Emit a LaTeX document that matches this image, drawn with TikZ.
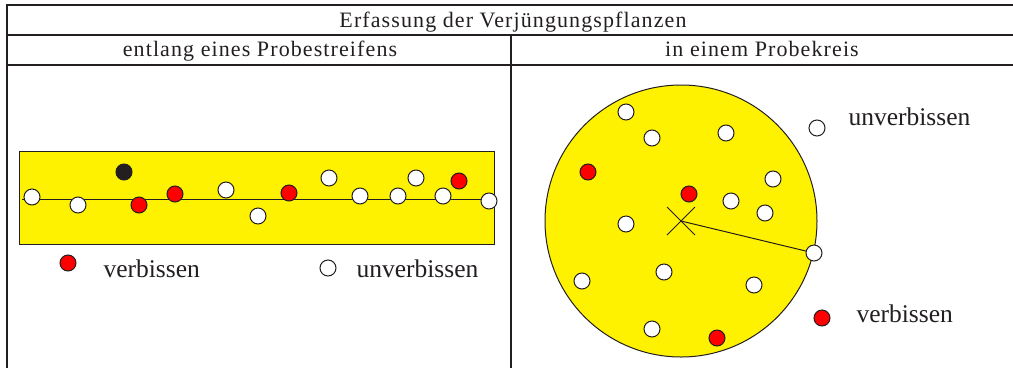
\documentclass[tikz,border=0pt]{standalone}
\usepackage{fontspec}
\setmainfont{Liberation Serif}
\newfontfamily\headfont[LetterSpace=5]{Liberation Serif}
\usetikzlibrary{positioning}
\definecolor{ink}{HTML}{231F20}

\begin{document}
\begin{tikzpicture}[x=1pt,y=-1pt,
    dot/.style={circle,draw=ink,line width=1pt,minimum size=16pt,inner sep=0pt},
    unv/.style={dot,fill=white},
    verb/.style={dot,fill=red},
    head/.style={anchor=base,text=ink,font=\headfont\fontsize{22}{24}\selectfont},
    leg/.style={anchor=base west,text=ink,font=\fontsize{25.5}{28}\selectfont}]
    \useasboundingbox (0,0) rectangle (1013,368);
    % Table
    \draw[line width=2pt, ink] (1013,5) -- (7,5) -- (7,368);
    \draw[line width=2pt, ink] (7,35) -- (1013,35);
    \draw[line width=2pt, ink] (7,65) -- (1013,65);
    \draw[line width=2pt, ink] (511,35) -- (511,368);
    \node[head] (titel) at (513,27) {Erfassung der Verjüngungspflanzen};
    \node[head] (streifen) at (260,56) {entlang eines Probestreifens};
    \node[head] (probekreis) at (762,56) {in einem Probekreis};
    % Strip
    \node[draw=ink, line width=1pt, fill=yellow, minimum width=475pt, minimum height=93pt,
      inner sep=0pt] (strip) at (256.5,197.5) {};
    \coordinate (sa) at (22,199);
    \coordinate (sb) at (489,199);
    \draw[ink, line width=1pt] (sa) -- (sb);
    \node[unv] (s1) at (32,197) {};
    \node[unv] (s2) at (78,205) {};
    \node[dot, fill=ink] (s3) at (124,172) {};
    \node[verb] (s4) at (139,205) {};
    \node[verb] (s5) at (175,194) {};
    \node[unv] (s6) at (226,190) {};
    \node[unv] (s7) at (258,216) {};
    \node[verb] (s8) at (289,193) {};
    \node[unv] (s9) at (329,178) {};
    \node[unv] (s10) at (360,196) {};
    \node[unv] (s11) at (398,196) {};
    \node[unv] (s12) at (416,178) {};
    \node[unv] (s13) at (443,196) {};
    \node[verb] (s14) at (459,181) {};
    \node[unv] (s15) at (489,201) {};
    % Legend strip
    \node[verb] (lv) at (68,263) {};
    \node[leg] (lvt) at (100,277) {verbissen};
    \node[unv] (lu) at (328,268) {};
    \node[leg] (lut) at (353,277) {unverbissen};
    % Circle
    \coordinate (kc) at (681,221);
    \coordinate (re) at (814,253);
    \node[circle, draw=ink, line width=1pt, fill=yellow, minimum size=272pt, inner sep=0pt] (kreis) at (kc) {};
    \draw[ink, line width=1pt] (kc) ++(-14,-14) -- ++(28,28);
    \draw[ink, line width=1pt] (kc) ++(14,-14) -- ++(-28,28);
    \draw[ink, line width=1pt] (kc) -- (re);
    \node[unv] (k1) at (626,112) {};
    \node[unv] (k2) at (652,138) {};
    \node[unv] (k3) at (726,133) {};
    \node[verb] (k4) at (588,172) {};
    \node[verb] (k5) at (689,194) {};
    \node[unv] (k6) at (731,201) {};
    \node[unv] (k7) at (773,179) {};
    \node[unv] (k8) at (765,213) {};
    \node[unv] (k9) at (626,224) {};
    \node[unv] (k10) at (582,281) {};
    \node[unv] (k11) at (664,272) {};
    \node[unv] (k12) at (754,285) {};
    \node[unv] (k13) at (652,329) {};
    \node[verb] (k14) at (717,338) {};
    \node[unv] (k15) at (re) {};
    % Legend circle
    \node[unv] (ru) at (817,128) {};
    \node[leg] (rut) at (845,125) {unverbissen};
    \node[verb] (rv) at (822,318) {};
    \node[leg] (rvt) at (853,322) {verbissen};
\end{tikzpicture}
\end{document}
